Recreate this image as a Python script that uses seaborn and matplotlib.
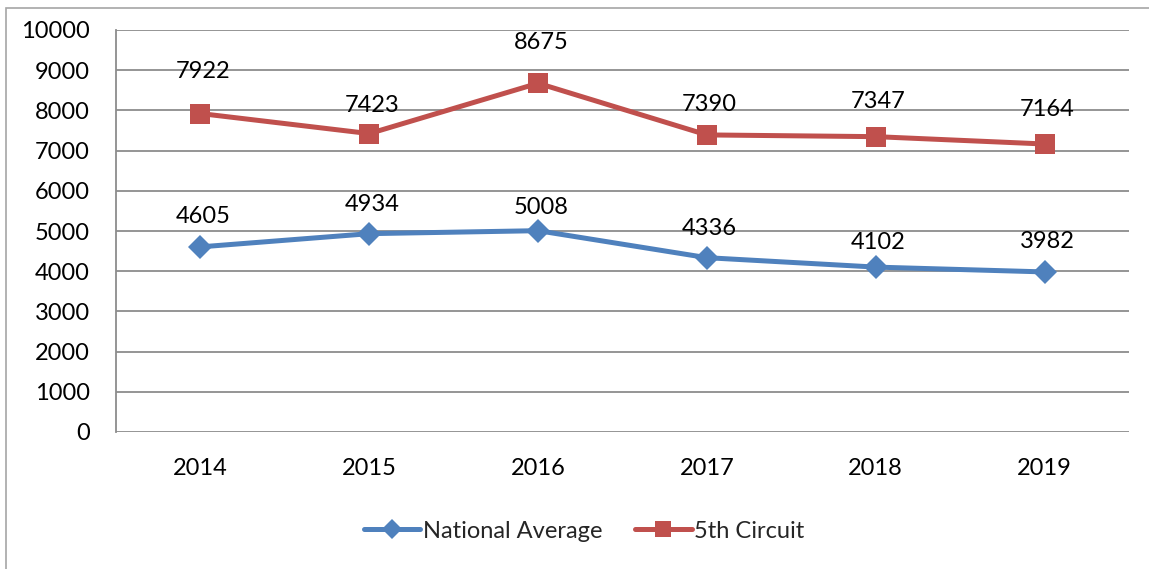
import pandas as pd
import matplotlib.pyplot as plt
import seaborn as sns
from matplotlib.patches import Rectangle

# Chart data
years = ['2014', '2015', '2016', '2017', '2018', '2019']
national_average = [4605, 4934, 5008, 4336, 4102, 3982]
fifth_circuit = [7922, 7423, 8675, 7390, 7347, 7164]

# label offsets above each point (in points), hand-tuned to the original placement
nat_label_offsets = [22, 21, 17, 21, 18, 22]
fifth_label_offsets = [30, 20, 29, 22, 25, 25]

blue = '#4F81BD'
red = '#C0504D'
grid_color = '#8C8C8C'
fsize = 17

sns.set_theme(style='white')
plt.rcParams['font.family'] = ['Lato', 'DejaVu Sans']

df = pd.DataFrame({
    'x': list(range(len(years))) * 2,
    'value': national_average + fifth_circuit,
    'series': ['National Average'] * len(years) + ['5th Circuit'] * len(years),
})

fig = plt.figure(figsize=(11.49, 5.69), dpi=100)
ax = fig.add_axes([116 / 1149, 1 - 432 / 569, (1129 - 116) / 1149, (432 - 30) / 569])

sns.lineplot(data=df[df['series'] == 'National Average'], x='x', y='value',
             color=blue, marker='D', markersize=12, markeredgewidth=0,
             linewidth=3.6, label='National Average', ax=ax)
sns.lineplot(data=df[df['series'] == '5th Circuit'], x='x', y='value',
             color=red, marker='s', markersize=14, markeredgewidth=0,
             linewidth=3.6, label='5th Circuit', ax=ax)

# data labels
for i, v in enumerate(national_average):
    ax.annotate(str(v), (i, v), xytext=(2, nat_label_offsets[i]), textcoords='offset points',
                ha='center', va='center', fontsize=fsize, color='black')
for i, v in enumerate(fifth_circuit):
    ax.annotate(str(v), (i, v), xytext=(2, fifth_label_offsets[i]), textcoords='offset points',
                ha='center', va='center', fontsize=fsize, color='black')

ax.set_xlim(-0.5, len(years) - 0.5)
ax.set_ylim(0, 10000)
ax.set_yticks(range(0, 10001, 1000))
ax.set_xticks(range(len(years)))
ax.set_xticklabels(years)
ax.set_xlabel('')
ax.set_ylabel('')
ax.tick_params(axis='y', labelsize=fsize, pad=19, length=0, colors='black')
ax.tick_params(axis='x', labelsize=fsize, pad=19, length=0, colors='black')

ax.yaxis.grid(True, color=grid_color, linewidth=1.3)
ax.set_axisbelow(True)
for side in ['top', 'right', 'bottom']:
    ax.spines[side].set_visible(False)
ax.spines['left'].set_color(grid_color)
ax.spines['left'].set_linewidth(1.3)

ax.get_legend().remove()
handles, labels = ax.get_legend_handles_labels()
fig.legend(handles, labels, loc='center', bbox_to_anchor=(584 / 1149, 1 - 531 / 569),
           ncol=2, frameon=False, fontsize=fsize, handlelength=2.4, handletextpad=0.1,
           columnspacing=1.4, markerscale=0.85)

# outer chart border (only top and left edges are visible in the crop)
fig.patches.append(Rectangle((6 / 1149, -0.1), 1.2, 1 - 8 / 569 + 0.1, transform=fig.transFigure,
                             fill=False, edgecolor='#A6A6A6', linewidth=1.2))

fig.savefig('out.png', dpi=100, facecolor='white')
